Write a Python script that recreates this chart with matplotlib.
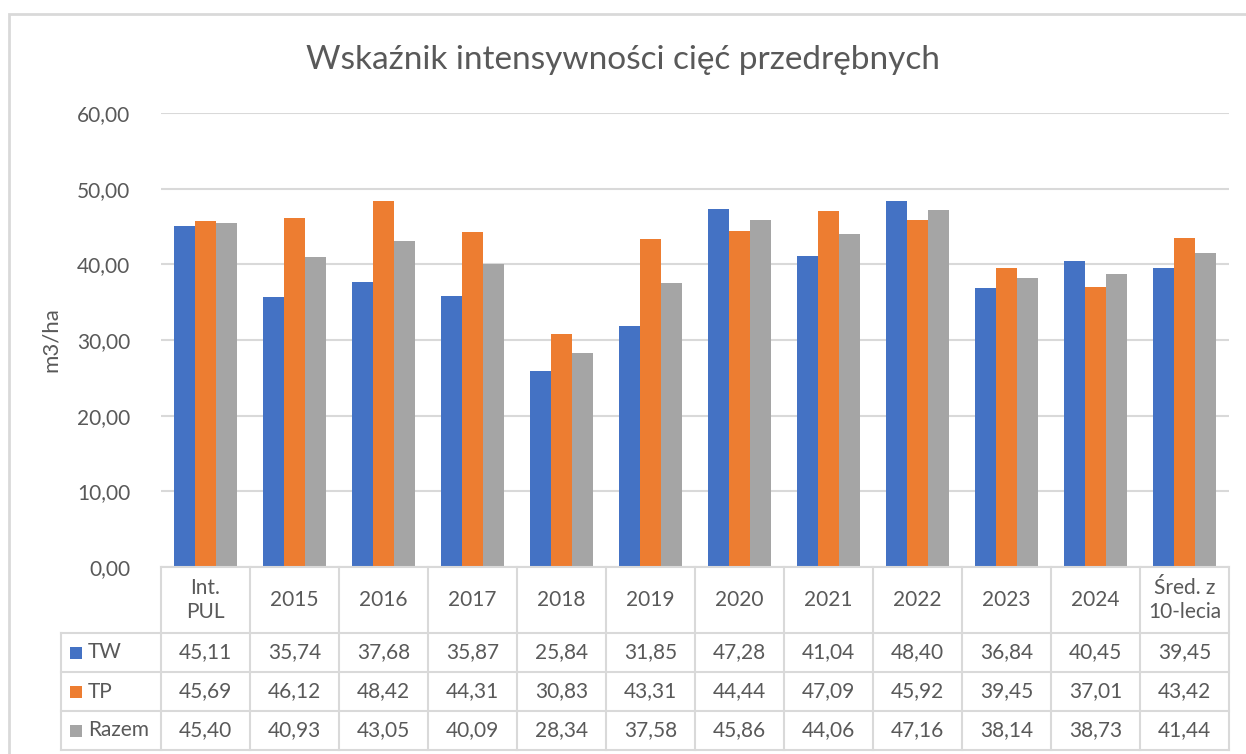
import numpy as np
import matplotlib.pyplot as plt
from matplotlib.patches import Rectangle

# dane
kategorie = ['Int.\nPUL', '2015', '2016', '2017', '2018', '2019', '2020',
             '2021', '2022', '2023', '2024', 'Śred. z\n10-lecia']
tw = [45.11, 35.74, 37.68, 35.87, 25.84, 31.85, 47.28, 41.04, 48.40, 36.84, 40.45, 39.45]
tp = [45.69, 46.12, 48.42, 44.31, 30.83, 43.31, 44.44, 47.09, 45.92, 39.45, 37.01, 43.42]
razem = [45.40, 40.93, 43.05, 40.09, 28.34, 37.58, 45.86, 44.06, 47.16, 38.14, 38.73, 41.44]
serie = ['TW', 'TP', 'Razem']
kolory = ['#4472C4', '#ED7D31', '#A5A5A5']

plt.rcParams['font.family'] = ['Lato', 'DejaVu Sans']
szary = '#595959'
siatka = '#D9D9D9'
fs = 15

W, H = 1246, 754
fig = plt.figure(figsize=(W / 100, H / 100), dpi=100)

# ramka wykresu
fig.patches.append(Rectangle((9 / W, -0.1), 1.2, (H - 14) / H + 0.1, transform=fig.transFigure,
                             fill=False, edgecolor=siatka, linewidth=2))

x0, x1, ytop, ybot = 161, 1229, 113, 567
ax = fig.add_axes([x0 / W, 1 - ybot / H, (x1 - x0) / W, (ybot - ytop) / H])

x = np.arange(len(kategorie))
bw = 0.235
for i, (vals, kol) in enumerate(zip([tw, tp, razem], kolory)):
    ax.bar(x + (i - 1) * bw, vals, width=bw, color=kol, zorder=3)

ax.set_xlim(-0.5, len(kategorie) - 0.5)
ax.set_ylim(0, 60)
ax.set_yticks(range(0, 61, 10))
ax.set_yticklabels([f'{v},00' for v in range(0, 61, 10)], fontsize=fs, color=szary)
ax.tick_params(axis='y', length=0, pad=22)
ax.set_xticks([])
ax.grid(axis='y', color=siatka, linewidth=1.5, zorder=0)
for s in ax.spines.values():
    s.set_visible(False)
ax.set_ylabel('m3/ha', fontsize=16, color=szary)
ax.yaxis.set_label_coords(-0.094, 0.5)

fig.text(0.5, 1 - 60 / H, 'Wskaźnik intensywności cięć przedrębnych', ha='center', va='center',
         fontsize=24, color=szary)

# tabela danych pod wykresem
def fy(py):
    return 1 - py / H

def fx(px):
    return px / W

kw = dict(color=siatka, linewidth=1.5, transform=fig.transFigure)
row_y = [567, 633, 672, 711, 750]
col_w = (x1 - x0) / len(kategorie)
lab_x = 61

# linie poziome
fig.add_artist(plt.Line2D([fx(x0), fx(x1)], [fy(567)] * 2, **kw))
for yy in row_y[1:]:
    fig.add_artist(plt.Line2D([fx(lab_x), fx(x1)], [fy(yy)] * 2, **kw))
# linie pionowe
for j in range(len(kategorie) + 1):
    xx = x0 + j * col_w
    fig.add_artist(plt.Line2D([fx(xx)] * 2, [fy(567), fy(750)], **kw))
fig.add_artist(plt.Line2D([fx(lab_x)] * 2, [fy(633), fy(750)], **kw))

for j, k in enumerate(kategorie):
    cx = x0 + (j + 0.5) * col_w
    fig.text(fx(cx), fy(600), k, ha='center', va='center', fontsize=fs, color=szary,
             linespacing=1.3)
    for r, vals in enumerate([tw, tp, razem]):
        cy = (row_y[r + 1] + row_y[r + 2]) / 2
        fig.text(fx(cx), fy(cy), f'{vals[j]:.2f}'.replace('.', ','), ha='center', va='center',
                 fontsize=fs, color=szary)

for r, (nazwa, kol) in enumerate(zip(serie, kolory)):
    cy = (row_y[r + 1] + row_y[r + 2]) / 2
    fig.patches.append(Rectangle((fx(70), fy(cy + 6)), 12 / W, 12 / H, transform=fig.transFigure,
                                 facecolor=kol, edgecolor='none'))
    fig.text(fx(88), fy(cy), nazwa, ha='left', va='center', fontsize=fs, color=szary)

fig.savefig('out.png', dpi=100)
